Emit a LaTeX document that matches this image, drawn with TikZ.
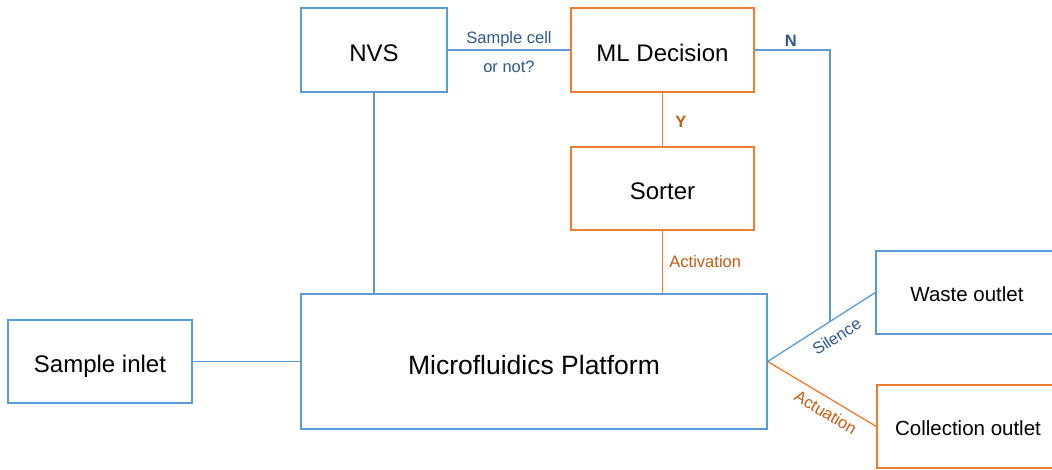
\documentclass[tikz,border=0pt]{standalone}
\usepackage{fontspec}
\setmainfont{Liberation Sans}
\usetikzlibrary{calc}
\definecolor{cblue}{HTML}{5B9BD5}
\definecolor{corange}{HTML}{ED7D31}
\definecolor{tblue}{HTML}{2F5A8A}
\definecolor{torange}{HTML}{C55A11}
\tikzset{
  box/.style={draw, line width=1.3pt, inner sep=0pt, text height=24pt, text depth=2pt, font=\fontsize{24}{28}\selectfont},
  bbox/.style={box, draw=cblue},
  obox/.style={box, draw=corange},
  outfont/.style={font=\fontsize{20.5}{24}\selectfont, text height=19.6pt, text depth=2pt},
  bline/.style={draw=cblue, line width=1.3pt},
  oline/.style={draw=corange, line width=1.3pt},
  blab/.style={text=tblue, font=\fontsize{16.5}{19}\selectfont},
  olab/.style={text=torange, font=\fontsize{16.5}{19}\selectfont},
}
\begin{document}
\begin{tikzpicture}[x=1pt,y=-1pt]
\useasboundingbox (0,0) rectangle (1052,469);
\node[bbox, minimum width=146pt, minimum height=84pt] (nvs) at (374,50) {NVS};
\node[obox, minimum width=183pt, minimum height=84pt] (ml) at (662.5,50) {ML Decision};
\node[obox, minimum width=183pt, minimum height=83pt] (sorter) at (662.5,188.5) {Sorter};
\node[bbox, minimum width=466pt, minimum height=135pt, font=\fontsize{26.5}{30}\selectfont, text height=28pt, text depth=2pt] (plat) at (534,361.5) {Microfluidics Platform};
\node[bbox, minimum width=184pt, minimum height=83pt] (inlet) at (100,361.5) {Sample inlet};
\node[bbox, minimum width=182pt, minimum height=83pt, outfont] (waste) at (967,292.5) {Waste outlet};
\node[obox, minimum width=182pt, minimum height=83pt, outfont] (coll) at (968,426.5) {Collection outlet};

\draw[bline] (nvs.east) -- node[blab, above=-1pt] {Sample cell} node[blab, below=7pt] {or not?} (ml.west);
\draw[oline] (ml.south) -- node[olab, pos=0.55, right=9pt, font=\bfseries\fontsize{16.5}{19}\selectfont] {Y} (sorter.north);
\draw[oline] (sorter.south) -- node[olab, right=3pt] {Activation} (sorter.south |- plat.north);
\draw[bline] (nvs.south) -- (nvs.south |- plat.north);
\draw[bline] (inlet.east) -- (plat.west);
\coordinate (j) at ($(plat.east)!0.578!(waste.west)$);
\draw[bline] (plat.east) -- node[blab, sloped, below=6pt, pos=0.56] {Silence} (waste.west);
\draw[oline] (plat.east) -- node[olab, sloped, below=4pt, pos=0.6] {Actuation} (coll.west);
\draw[bline] (ml.east) -| node[blab, pos=0.24, above=0pt, font=\bfseries\fontsize{16.5}{19}\selectfont] {N} (j);
\end{tikzpicture}
\end{document}
